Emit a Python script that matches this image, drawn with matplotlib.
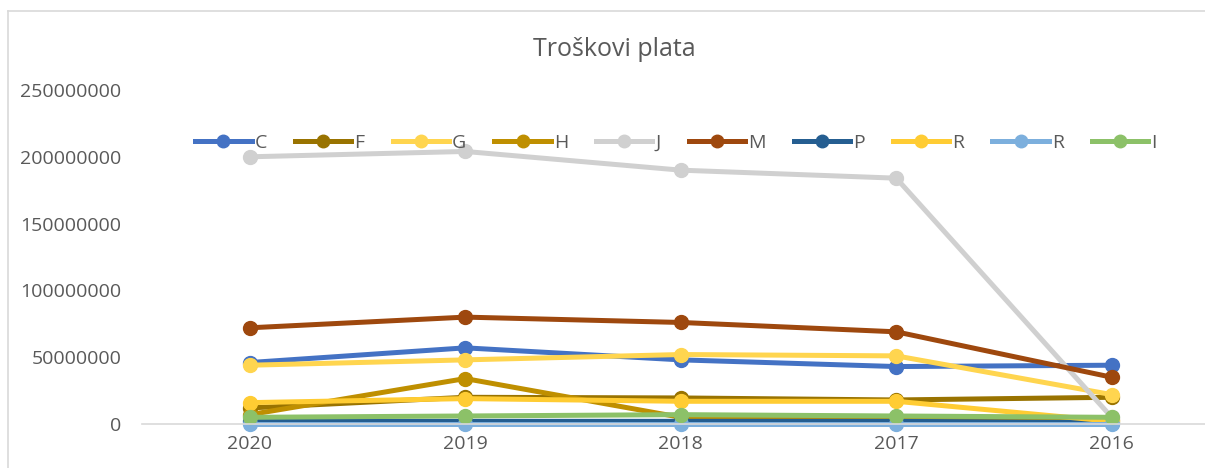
import matplotlib.pyplot as plt
from matplotlib.lines import Line2D

plt.rcParams['font.family'] = ['Open Sans', 'DejaVu Sans']

years = ['2020', '2019', '2018', '2017', '2016']
names = ['C', 'F', 'G', 'H', 'J', 'M', 'P', 'R', 'R', 'I']
colors = ['#4472C4', '#997300', '#FFD54F', '#BF8F00', '#D0D0D0',
          '#9E480E', '#255E91', '#FFCC33', '#7CAFDD', '#8CC168']

c_vals = [46e6, 57e6, 48e6, 43e6, 44e6]
f_vals = [12e6, 20e6, 19.5e6, 18e6, 20e6]
g_vals = [44e6, 48e6, 52e6, 51e6, 22e6]
h_vals = [7e6, 34e6, 5e6, 4e6, 3e6]
j_vals = [200e6, 204e6, 190e6, 184e6, 5e6]
m_vals = [72e6, 80e6, 76e6, 69e6, 35e6]
p_vals = [2e6, 2e6, 2e6, 2e6, 1e6]
r_vals = [16e6, 19e6, 17e6, 17e6, 2e6]
r2_vals = [0, 0, 0, 0, 0]
i_vals = [5e6, 6e6, 7e6, 6e6, 5e6]

series = [c_vals, f_vals, g_vals, h_vals, j_vals, m_vals, p_vals, r_vals, r2_vals, i_vals]

fig = plt.figure(figsize=(12.05, 4.68), dpi=100)
ax = fig.add_axes([142 / 1205, 44 / 468, 1077.5 / 1205, 334 / 468])

x = list(range(len(years)))
for name, vals, col in zip(names, series, colors):
    ax.plot(x, vals, color=col, lw=3.6, marker='o', markersize=10,
            label=name, solid_joinstyle='round', clip_on=False)

ax.set_xlim(-0.5, 4.5)
ax.set_ylim(0, 250e6)
ax.set_xticks(x)
ax.set_xticklabels(years)
ax.set_yticks([0, 50e6, 100e6, 150e6, 200e6, 250e6])
ax.set_yticklabels(['0', '50000000', '100000000', '150000000', '200000000', '250000000'])
ax.tick_params(axis='both', length=0, labelsize=14, colors='#595959', pad=8)
ax.tick_params(axis='y', pad=15)
for side in ['top', 'right', 'left']:
    ax.spines[side].set_visible(False)
ax.spines['bottom'].set_color('#D9D9D9')
ax.spines['bottom'].set_linewidth(1.2)

fig.text(614 / 1205, 1 - 50 / 468, 'Troškovi plata', ha='center', va='center',
         fontsize=18, color='#595959')

leg = fig.legend(loc='center', bbox_to_anchor=(676 / 1205, 1 - 143 / 468), ncol=10,
                 frameon=False, fontsize=14, handlelength=2.9, columnspacing=1.45,
                 handletextpad=0.15, labelcolor='#595959', markerscale=0.9)

# chart border (partly cropped in the reference)
fig.add_artist(Line2D([8 / 1205, 8 / 1205], [0, 1 - 11 / 468], color='#D9D9D9', lw=1.2,
                      transform=fig.transFigure))
fig.add_artist(Line2D([8 / 1205, 1], [1 - 11 / 468, 1 - 11 / 468], color='#D9D9D9', lw=1.2,
                      transform=fig.transFigure))

fig.savefig('out.png', dpi=100)
